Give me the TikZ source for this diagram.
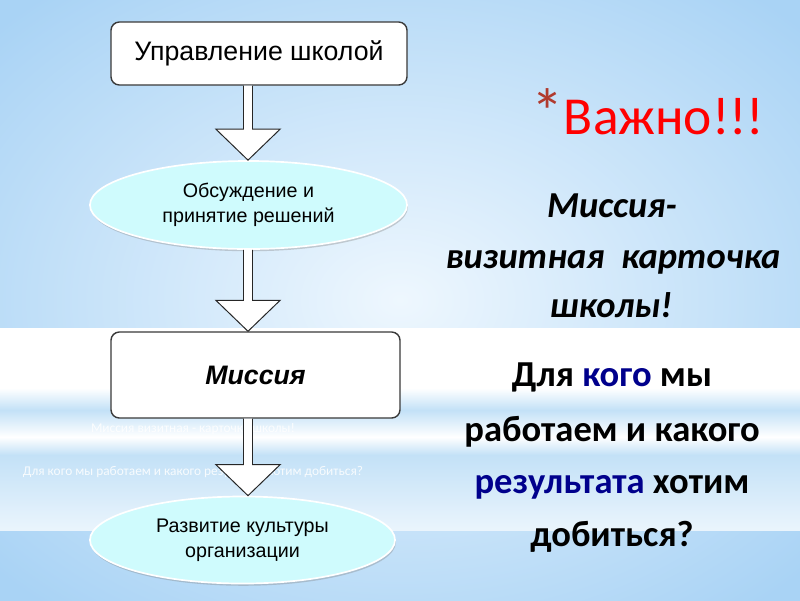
\documentclass[tikz,border=0pt]{standalone}
\usepackage{fontspec}
\setmainfont{Liberation Sans}
\newfontfamily\slidefont{Carlito}
\usetikzlibrary{positioning,shapes.geometric,shadows,calc}

\definecolor{bgouter}{HTML}{A9D3F5}
\definecolor{bginner}{HTML}{EEF7FE}
\definecolor{bandblue}{HTML}{C3E1F7}
\definecolor{ovalfill}{HTML}{CFFBFD}
\definecolor{boxline}{HTML}{3A3A3A}
\definecolor{starred}{HTML}{B03A2E}
\definecolor{keyblue}{HTML}{00008C}

% hollow block arrow between two nodes, on the common axis
\newcommand{\blockarrow}[2]{%
  \draw[blockarr] let \p1=(#1.south -| axis), \p2=(#2.north -| axis) in
    (\x1-3.2pt,\y1) -- (\x1-3.2pt,\y2+22pt) -- (\x1-22.8pt,\y2+22pt) -- (\x2,\y2)
    -- (\x1+22.8pt,\y2+22pt) -- (\x1+3.2pt,\y2+22pt) -- (\x1+3.2pt,\y1);
}

\begin{document}
\begin{tikzpicture}[x=0.025cm, y=-0.025cm,
  font=\fontsize{19}{22}\selectfont,
  box/.style={draw=boxline, line width=1pt, rounded corners=6pt, fill=white, inner sep=0pt},
  oval/.style={ellipse, draw=white, line width=1.2pt, fill=ovalfill, align=center, inner sep=0pt,
    drop shadow={opacity=0.35, shadow xshift=0.6pt, shadow yshift=-1.6pt},
    font=\fontsize{14}{17.8}\selectfont},
  blockarr/.style={draw=black!85, fill=white, line width=0.7pt, line join=miter},
  hint/.style={text=white, text opacity=0.85, anchor=base, font=\slidefont\fontsize{9.5}{11}\selectfont},
  ital/.style={anchor=base, font=\slidefont\bfseries\itshape\fontsize{26}{30}\selectfont},
  plain/.style={anchor=base, font=\slidefont\bfseries\fontsize{26}{30}\selectfont}
]
\useasboundingbox (0,0) rectangle (800,600);

% background
\shade[inner color=bginner, outer color=bgouter] (-150,-100) rectangle (950,700);
\fill[white] (0,328) rectangle (800,530);
\shade[top color=white, bottom color=bandblue] (0,388) rectangle (800,410);
\shade[top color=bandblue, bottom color=white] (0,410) rectangle (800,437);
\shade[top color=white, bottom color=bandblue] (0,437) rectangle (800,455);
\shade[top color=bandblue, bottom color=bandblue!35] (0,455) rectangle (800,530);

% faint notes behind the flow
\node[hint] (note1) at (193,432) {Миссия визитная - карточка школы!};
\node[hint] (note2) at (193,475) {Для кого мы работаем и какого результата хотим добиться?};

\coordinate (axis) at (248,0);

% flow
\node[box, minimum width=7.4cm, minimum height=1.575cm] (school) at (259,53.5) {Управление школой};
\node[oval, minimum width=7.925cm, minimum height=2.2cm] (decide) at (248.5,205) {Обсуждение и\\принятие решений};
\node[box, minimum width=7.225cm, minimum height=2.15cm, font=\bfseries\itshape\fontsize{19}{22}\selectfont] (mission) at (255.5,375) {Миссия};
\node[oval, minimum width=7.625cm, minimum height=2.175cm] (culture) at (242.5,540) {Развитие культуры\\организации};

\blockarrow{school}{decide}
\blockarrow{decide}{mission}
\blockarrow{mission}{culture}

% right column
\node[anchor=base, font=\slidefont\fontsize{38}{42}\selectfont, text=red] (important) at (648,134) {{\color{starred}\fontsize{46}{46}\selectfont*}Важно!!!};
\node[ital] (line1) at (612,217) {Миссия-};
\node[ital] (line2) at (613,268) {визитная~~карточка};
\node[ital] (line3) at (611,317) {школы!};
\node[plain] (line4) at (612,386) {Для {\color{keyblue}кого} мы};
\node[plain] (line5) at (612,441) {работаем и какого};
\node[plain] (line6) at (612,493) {{\color{keyblue}результата} хотим};
\node[plain] (line7) at (612,546) {добиться?};
\end{tikzpicture}
\end{document}
